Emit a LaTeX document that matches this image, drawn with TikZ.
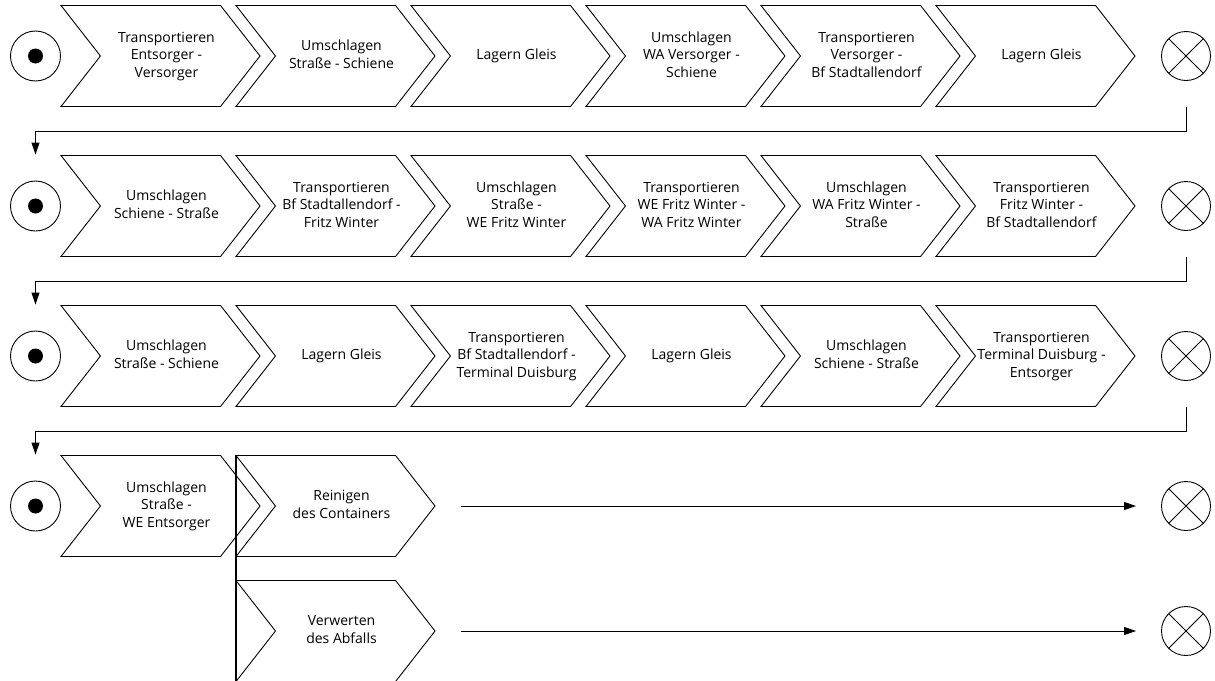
\documentclass[tikz,border=0pt]{standalone}
\usepackage{fontspec}
\setmainfont{Open Sans}
\usepackage{tikz}
\usetikzlibrary{shapes.symbols, arrows.meta, positioning, calc}
\newcommand{\steplines}[1]{\hspace*{12pt}\begin{tabular}{@{}c@{}}#1\end{tabular}}
\tikzset{
    stepchev/.style={signal, signal from=west, signal to=east, signal pointer angle=104, draw=black, line width=0.9pt, minimum width=199pt, minimum height=101pt, inner xsep=-30pt, inner ysep=0pt, font=\fontsize{14}{17.5}\selectfont},
    startev/.style={circle, draw=black, line width=0.9pt, minimum size=50pt, inner sep=0pt, path picture={\fill[black] (path picture bounding box.center) circle (7.5pt);}},
    endev/.style={circle, draw=black, line width=0.9pt, minimum size=49pt, inner sep=0pt, path picture={\draw[line width=0.9pt] (path picture bounding box.north west) -- (path picture bounding box.south east) (path picture bounding box.north east) -- (path picture bounding box.south west);}},
    flow/.style={-{Triangle[length=12pt, width=8pt]}, line width=0.9pt}
}
\begin{document}
\begin{tikzpicture}[x=1pt, y=1pt]
  \useasboundingbox (0,0) rectangle (1215,-680);
  % row 1
  \node[startev] (s1) at (35.5,-56) {};
  \node[stepchev] (r1a) at (160.5,-56) {\steplines{Transportieren\\Entsorger -\\Versorger}};
  \node[stepchev] (r1b) at (335.5,-56) {\steplines{Umschlagen\\Straße - Schiene}};
  \node[stepchev] (r1c) at (510.5,-56) {\steplines{Lagern Gleis}};
  \node[stepchev] (r1d) at (685.5,-56) {\steplines{Umschlagen\\WA Versorger -\\Schiene}};
  \node[stepchev] (r1e) at (860.5,-56) {\steplines{Transportieren\\Versorger -\\Bf Stadtallendorf}};
  \node[stepchev] (r1f) at (1035.5,-56) {\steplines{Lagern Gleis}};
  \node[endev] (e1) at (1186,-56) {};
  % row 2
  \node[startev] (s2) at (35.5,-206) {};
  \node[stepchev] (r2a) at (160.5,-206) {\steplines{Umschlagen\\Schiene - Straße}};
  \node[stepchev] (r2b) at (335.5,-206) {\steplines{Transportieren\\Bf Stadtallendorf -\\Fritz Winter}};
  \node[stepchev] (r2c) at (510.5,-206) {\steplines{Umschlagen\\Straße -\\WE Fritz Winter}};
  \node[stepchev] (r2d) at (685.5,-206) {\steplines{Transportieren\\WE Fritz Winter -\\WA Fritz Winter}};
  \node[stepchev] (r2e) at (860.5,-206) {\steplines{Umschlagen\\WA Fritz Winter -\\Straße}};
  \node[stepchev] (r2f) at (1035.5,-206) {\steplines{Transportieren\\Fritz Winter -\\Bf Stadtallendorf}};
  \node[endev] (e2) at (1186,-206) {};
  % row 3
  \node[startev] (s3) at (35.5,-356) {};
  \node[stepchev] (r3a) at (160.5,-356) {\steplines{Umschlagen\\Straße - Schiene}};
  \node[stepchev] (r3b) at (335.5,-356) {\steplines{Lagern Gleis}};
  \node[stepchev] (r3c) at (510.5,-356) {\steplines{Transportieren\\Bf Stadtallendorf -\\Terminal Duisburg}};
  \node[stepchev] (r3d) at (685.5,-356) {\steplines{Lagern Gleis}};
  \node[stepchev] (r3e) at (860.5,-356) {\steplines{Umschlagen\\Schiene - Straße}};
  \node[stepchev] (r3f) at (1035.5,-356) {\steplines{Transportieren\\Terminal Duisburg -\\Entsorger}};
  \node[endev] (e3) at (1186,-356) {};
  % row 4 and split
  \node[startev] (s4) at (35.5,-506) {};
  \node[stepchev] (r4a) at (160.5,-506) {\steplines{Umschlagen\\Straße -\\WE Entsorger}};
  \node[stepchev] (r4b) at (335.5,-506) {\steplines{Reinigen\\des Containers}};
  \node[endev] (e4) at (1186,-506) {};
  \node[stepchev] (r5a) at (335.5,-631) {\steplines{Verwerten\\des Abfalls}};
  \node[endev] (e5) at (1186,-631) {};
  % connectors
  \draw[flow, shorten <=26pt, shorten >=26pt] (e1.south) -- ++(0,-50) -| (s2.north);
  \draw[flow, shorten <=26pt, shorten >=26pt] (e2.south) -- ++(0,-50) -| (s3.north);
  \draw[flow, shorten <=26pt, shorten >=26pt] (e3.south) -- ++(0,-50) -| (s4.north);
  \draw[line width=1.8pt] ([xshift=-99.5pt]r4b.north) -- ([xshift=-99.5pt]r5a.south);
  \draw[flow, shorten <=25pt, shorten >=25pt] (r4b.east) -- (e4.west);
  \draw[flow, shorten <=25pt, shorten >=25pt] (r5a.east) -- (e5.west);
\end{tikzpicture}
\end{document}
